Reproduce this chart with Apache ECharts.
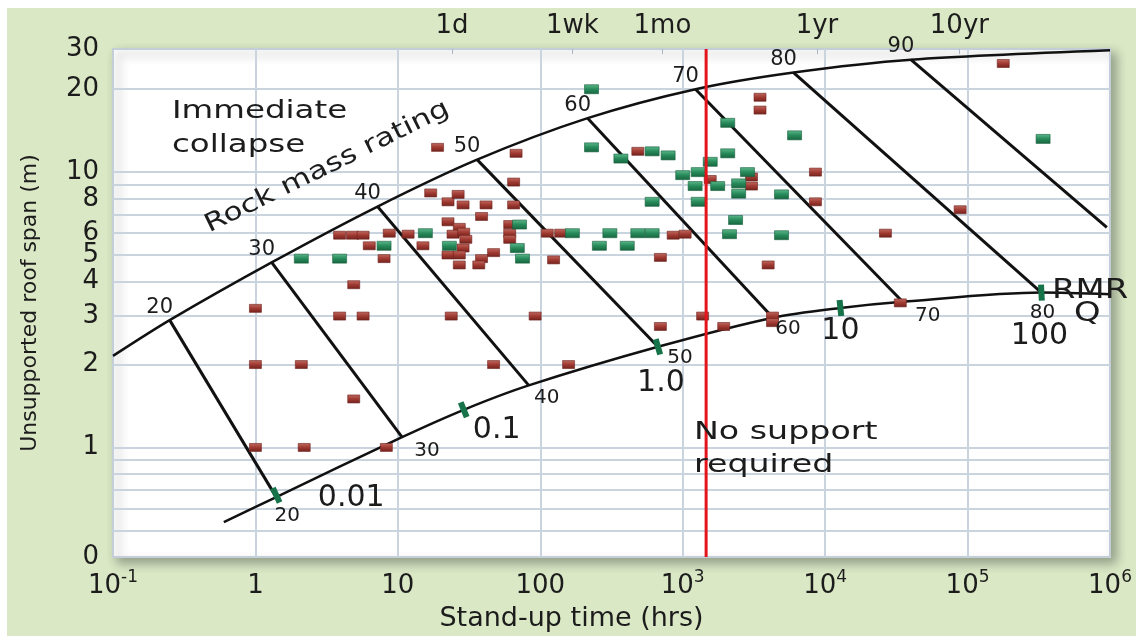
<!DOCTYPE html>
<html>
<head>
<meta charset="utf-8">
<title>Rock mass rating - stand-up time vs unsupported roof span</title>
<script src="https://cdn.jsdelivr.net/npm/echarts@6/dist/echarts.min.js"></script>
<style>
  html, body { margin: 0; padding: 0; background: #fff; }
  #chart { width: 1136px; height: 636px; }
</style>
</head>
<body>
<div id="chart"></div>
<script>
// all points: [stand-up time (hrs), unsupported roof span (m)]
const redPoints = [
  [1.0, 3.2], [1.0, 2.0], [2.1, 2.0], [1.0, 1.0], [2.2, 1.0], [8.3, 1.0], [4.9, 1.5], [3.9, 3.0], [5.7, 3.0], [4.9, 3.9],
  [3.9, 5.9], [4.8, 5.9], [5.7, 5.9], [8.7, 6.0], [6.3, 5.4], [8.0, 4.85], [11.8, 5.95], [15, 5.4], [17, 8.4], [22.5, 7.8],
  [26.5, 8.3], [28.7, 7.6], [41.6, 7.6], [65, 9.2], [65, 7.6], [38.7, 6.9], [22.5, 6.6], [27, 6.3], [24.4, 5.95], [29, 6.05],
  [30, 5.7], [28.7, 5.3], [22.5, 5.0], [27, 5.0], [27, 4.6], [38.7, 4.85], [47, 5.1], [37, 4.6], [61, 6.45], [61, 6.0],
  [61, 5.7], [19, 12.3], [67.6, 11.7], [112, 6.0], [139, 6.0], [124, 4.8], [23.7, 3.0], [92, 3.0], [47, 2.0], [158, 2.0],
  [484, 11.9], [857, 5.9], [1040, 5.95], [697, 4.9], [697, 2.75], [1380, 3.0], [1940, 2.75], [4270, 3.0], [4270, 2.84], [3490, 18.7],
  [3490, 16.8], [1560, 9.4], [3040, 9.6], [3040, 8.9], [8550, 10], [8550, 7.8], [3980, 4.6], [26500, 6.0], [88700, 7.3], [178000, 24.8],
  [33700, 3.35]
];
const greenPoints = [
  [2.1, 4.85], [3.9, 4.85], [8.0, 5.4], [15.6, 6.0], [23, 5.4], [71.5, 6.45], [69, 5.3], [75, 4.85], [168, 6.0], [308, 6.0],
  [260, 5.4], [408, 5.4], [484, 6.0], [610, 6.0], [229, 20], [229, 12.3], [610, 11.9], [368, 11.2], [790, 11.5], [1000, 9.75],
  [1285, 10], [1222, 8.9], [610, 7.8], [1285, 7.8], [1560, 10.9], [2070, 15.1], [2070, 11.7], [1760, 8.9], [2850, 10], [2470, 9.1],
  [2470, 8.35], [2350, 6.7], [2130, 5.95], [4940, 8.3], [4940, 5.9], [6100, 13.6], [339000, 13.2]
];

// band boundaries
const upperCurve = [[0.1, 2.15], [0.25, 2.9], [1.3, 4.7], [7.2, 7.5], [36, 11.1], [215, 15.7], [1230, 20], [6000, 23], [40000, 25.6], [1e6, 27.7]];
const lowerCurve = [[0.6, 0.535], [1.4, 0.66], [10.7, 1.09], [29, 1.37], [83, 1.68], [670, 2.32], [4300, 2.96], [12800, 3.21], [35000, 3.38], [330000, 3.65], [1e6, 3.6]];

// RMR contour lines: upper end -> lower end
const rmrValues = [20, 30, 40, 50, 60, 70, 80, 90];
const rmrUpper = [[0.25, 2.9], [1.3, 4.7], [7.2, 7.5], [36, 11.1], [215, 15.7], [1230, 20], [6000, 23], [40000, 25.6]];
const rmrLower = [[1.4, 0.66], [10.7, 1.09], [83, 1.68], [670, 2.32], [4300, 2.96], [35000, 3.38], [330000, 3.65], [950000, 6.3]];

// Q ticks on the lower boundary
const qValues = ['0.01', '0.1', '1.0', '10', '100'];
const qTicks = [[1.4, 0.67], [29, 1.37], [670, 2.32], [12800, 3.21], [330000, 3.65]];

const noSupportHours = 1460;

const xTickExp = [-1, 0, 1, 2, 3, 4, 5, 6];
const xTickLabels = ['10^-1', '1', '10', '100', '10^3', '10^4', '10^5', '10^6'];
const xGridExp = [0, 1, 2, 3, 4, 5];
const yTickSpans = [0.4, 1, 2, 3, 4, 5, 6, 8, 10, 20, 28];
const yTickLabels = ['0', '1', '2', '3', '4', '5', '6', '8', '10', '20', '30'];
const yGridSpans = [0.5, 0.6, 0.7, 0.8, 0.9, 1, 2, 3, 4, 5, 6, 7, 8, 9, 10, 20];
const topTickHours = [24, 168, 720, 8760, 87600];
const topTickLabels = ['1d', '1wk', '1mo', '1yr', '10yr'];

// label placement / marker styling
const upperLabelOffset = [-10, -13];
const lowerLabelOffsets = [[11, 19], [25, 14], [18, 12], [22, 11], [15, 11], [25, 14], [1, 20]];
const qLabelOffsets = [[75, 3], [33, 20], [3, 36], [0, 23], [-2, 44]];
const qTickRotate = [25, 22, 16, 6, 3];

const FONT = 'DejaVu Sans';
const INK = '#1c1c1c';
const L = Math.log10;
const xy = p => [L(p[0]), L(p[1])];
const yMin = L(yTickSpans[0]);
const yMax = L(yTickSpans[yTickSpans.length - 1]);

function lookup(values, labels) {
  return v => {
    const i = values.findIndex(t => Math.abs(t - v) < 1e-6);
    return i < 0 ? '' : labels[i];
  };
}
const xLabel = v => {
  const s = lookup(xTickExp, xTickLabels)(v);
  const parts = s.split('^');
  return parts.length > 1 ? '{n|' + parts[0] + '}{s|' + parts[1] + '}' : '{n|' + s + '}';
};

const blackLine = (points, width, smooth) => ({
  type: 'line', data: points.map(xy), symbol: 'none', silent: true, smooth: smooth,
  lineStyle: { color: '#111', width: width }, z: 3
});

const textLabel = size => ({
  show: true, position: 'inside', fontSize: size, color: INK, fontFamily: FONT,
  opacity: 1, textBorderWidth: 0
});

const myChart = echarts.init(document.getElementById('chart'));
myChart.setOption({
  animation: false,
  backgroundColor: '#dbe8c6',
  textStyle: { fontFamily: FONT },
  grid: {
    left: 113, right: 26, top: 49, bottom: 79,
    show: true, backgroundColor: '#fff', borderColor: '#c3ced9', borderWidth: 2,
    shadowColor: 'rgba(60, 70, 60, 0.45)', shadowBlur: 10, shadowOffsetX: 5, shadowOffsetY: 5,
    outerBoundsMode: 'none'
  },
  xAxis: [{
    type: 'value', min: -1, max: 6, position: 'bottom',
    axisLine: { show: false },
    axisTick: { show: false, customValues: xGridExp },
    splitLine: { show: true, lineStyle: { color: '#c9d4df', width: 2 } },
    axisLabel: {
      customValues: xTickExp, formatter: xLabel, margin: 12,
      rich: {
        n: { fontSize: 26, fontFamily: FONT, color: INK, lineHeight: 34 },
        s: { fontSize: 17, fontFamily: FONT, color: INK, verticalAlign: 'top', lineHeight: 20 }
      }
    },
    name: 'Stand-up time (hrs)', nameLocation: 'middle', nameGap: 48,
    nameTextStyle: { fontSize: 27, color: INK, fontFamily: FONT, padding: [0, 80, 0, 0] }
  }, {
    type: 'value', min: -1, max: 6, position: 'top',
    axisLine: { show: false },
    axisTick: { show: true, inside: true, length: 5, customValues: topTickHours.map(L), lineStyle: { color: '#aab4be' } },
    splitLine: { show: false },
    axisLabel: {
      customValues: topTickHours.map(L), formatter: lookup(topTickHours.map(L), topTickLabels),
      margin: 10, fontSize: 26, color: INK, fontFamily: FONT
    }
  }],
  yAxis: {
    type: 'value', min: yMin, max: yMax,
    axisLine: { show: false },
    axisTick: { show: false, customValues: yGridSpans.map(L) },
    splitLine: { show: true, lineStyle: { color: '#c9d4df', width: 2 } },
    axisLabel: {
      customValues: yTickSpans.map(L), formatter: lookup(yTickSpans.map(L), yTickLabels),
      margin: 14, fontSize: 26, color: INK, fontFamily: FONT
    },
    name: 'Unsupported roof span (m)', nameLocation: 'middle', nameGap: 72,
    nameTextStyle: { fontSize: 22, color: INK, fontFamily: FONT }
  },
  graphic: [
    { type: 'rect', shape: { x: 0, y: 0, width: 1136, height: 8 }, style: { fill: '#fff' } },
    { type: 'rect', shape: { x: 0, y: 0, width: 7, height: 636 }, style: { fill: '#fff' } },
    {
      type: 'text', x: 172, y: 94, scaleX: 1.3, z: 100,
      style: { text: 'Immediate\ncollapse', fontSize: 25, fontFamily: FONT, fill: INK, lineHeight: 34, verticalAlign: 'top' }
    },
    {
      type: 'text', x: 212, y: 238, rotation: 26.3 * Math.PI / 180, scaleX: 1.25, z: 100,
      style: { text: 'Rock mass rating', fontSize: 25, fontFamily: FONT, fill: INK, verticalAlign: 'bottom' }
    },
    {
      type: 'text', x: 694, y: 416, scaleX: 1.33, z: 100,
      style: { text: 'No support\nrequired', fontSize: 25, fontFamily: FONT, fill: INK, lineHeight: 33, verticalAlign: 'top' }
    },
    {
      type: 'text', x: 1052, y: 278, scaleX: 1.3, z: 100,
      style: { text: 'RMR', fontSize: 26, fontFamily: FONT, fill: INK, verticalAlign: 'top' }
    },
    {
      type: 'text', x: 1074, y: 301, scaleX: 1.3, z: 100,
      style: { text: 'Q', fontSize: 26, fontFamily: FONT, fill: INK, verticalAlign: 'top' }
    }
  ],
  series: [
    blackLine(upperCurve, 2.5, 0.3),
    blackLine(lowerCurve, 2.5, 0.3),
    ...rmrValues.map((r, i) => blackLine([rmrUpper[i], rmrLower[i]], 3, false)),
    {
      name: 'red', type: 'scatter', symbol: 'rect', symbolSize: [12, 8], z: 4,
      data: redPoints.map(xy),
      itemStyle: {
        opacity: 1, borderColor: '#6e221d', borderWidth: 0.6,
        color: { type: 'linear', x: 0, y: 0, x2: 0, y2: 1, colorStops: [
          { offset: 0, color: '#c06a60' }, { offset: 0.5, color: '#a03a32' }, { offset: 1, color: '#74221d' }] }
      }
    },
    {
      name: 'green', type: 'scatter', symbol: 'rect', symbolSize: [14, 9], z: 4,
      data: greenPoints.map(xy),
      itemStyle: {
        opacity: 1, borderColor: '#196040', borderWidth: 0.6,
        color: { type: 'linear', x: 0, y: 0, x2: 0, y2: 1, colorStops: [
          { offset: 0, color: '#5db88a' }, { offset: 0.5, color: '#278a5a' }, { offset: 1, color: '#18663f' }] }
      }
    },
    {
      name: 'Q', type: 'scatter', symbol: 'rect', symbolSize: [6, 16], z: 5, silent: true,
      itemStyle: { color: '#17744a', opacity: 1 },
      data: qTicks.map((p, i) => ({
        value: xy(p), symbolRotate: qTickRotate[i],
        label: { formatter: qValues[i], offset: qLabelOffsets[i] }
      })),
      label: textLabel(30)
    },
    {
      name: 'RMR upper', type: 'scatter', symbolSize: 1, z: 6, silent: true,
      itemStyle: { color: 'transparent', opacity: 1 },
      data: rmrUpper.map(xy),
      label: Object.assign(textLabel(21), {
        offset: upperLabelOffset,
        formatter: p => String(rmrValues[p.dataIndex])
      })
    },
    {
      name: 'RMR lower', type: 'scatter', symbolSize: 1, z: 6, silent: true,
      itemStyle: { color: 'transparent', opacity: 1 },
      data: rmrLower.slice(0, lowerLabelOffsets.length).map((p, i) => ({
        value: xy(p), label: { offset: lowerLabelOffsets[i] }
      })),
      label: Object.assign(textLabel(20), {
        formatter: p => String(rmrValues[p.dataIndex])
      })
    },
    {
      name: 'no support', type: 'line', symbol: 'none', silent: true, z: 7,
      data: [[L(noSupportHours), yMin], [L(noSupportHours), yMax]],
      lineStyle: { color: '#e3141b', width: 3 }
    }
  ]
});
</script>
</body>
</html>
